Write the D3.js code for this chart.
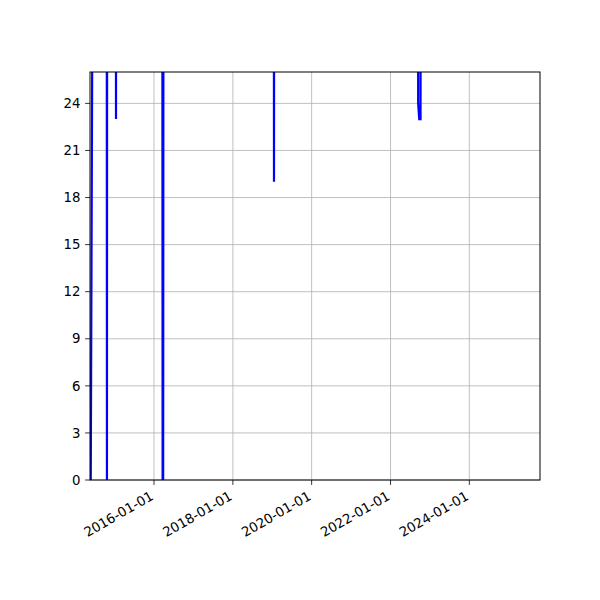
<!DOCTYPE html>
<html>
<head>
<script src="https://cdn.jsdelivr.net/npm/d3@7"></script>
<style>
  body { margin: 0; background: #fff; }
  text { font-family: "DejaVu Sans", sans-serif; }
</style>
</head>
<body>
<svg id="chart" width="600" height="600"></svg>
<script>
// series (values above 26 run off the top)
var dates = ["2014-05-25", "2014-06-14", "2014-10-20", "2014-10-22", "2014-10-24",
  "2015-01-12", "2015-01-14", "2015-01-16", "2016-03-18", "2016-03-21", "2016-03-26",
  "2016-03-29", "2019-01-15", "2019-01-17", "2019-01-19", "2022-09-12", "2022-09-14",
  "2022-09-24", "2022-10-06", "2022-10-08"];
var values = [0, 40, 40, 0, 40, 40, 23, 40, 40, 0, 0, 40, 40, 19, 40, 40, 24, 23, 23, 40];
var yTicks = [0, 3, 6, 9, 12, 15, 18, 21, 24];
var xTicks = ["2016-01-01", "2018-01-01", "2020-01-01", "2022-01-01", "2024-01-01"];
var xLimits = ["2014-05-18", "2025-10-17"];

var parse = d3.timeParse("%Y-%m-%d");
var series = dates.map(function(d, i){ return {date: parse(d), value: values[i]}; });

var plotLeft = 90, plotRight = 540, plotTop = 72, plotBottom = 480;
var svg = d3.select("#chart");

var x = d3.scaleTime().domain(xLimits.map(parse)).range([plotLeft, plotRight]);
var y = d3.scaleLinear().domain([0, 26]).range([plotBottom, plotTop]);

svg.append("clipPath").attr("id", "plotclip")
  .append("rect").attr("x", plotLeft).attr("y", plotTop)
  .attr("width", plotRight - plotLeft).attr("height", plotBottom - plotTop);

// grid
var grid = svg.append("g").attr("stroke", "#b0b0b0").attr("stroke-width", 0.8);
grid.selectAll(".gx").data(xTicks.map(parse)).enter().append("line")
  .attr("x1", function(d){ return x(d); }).attr("x2", function(d){ return x(d); })
  .attr("y1", plotTop).attr("y2", plotBottom);
grid.selectAll(".gy").data(yTicks).enter().append("line")
  .attr("x1", plotLeft).attr("x2", plotRight)
  .attr("y1", function(d){ return y(d); }).attr("y2", function(d){ return y(d); });

// line
var line = d3.line().x(function(d){ return x(d.date); }).y(function(d){ return y(d.value); });
svg.append("path").datum(series).attr("d", line)
  .attr("clip-path", "url(#plotclip)")
  .attr("fill", "none").attr("stroke", "blue").attr("stroke-width", 2.2);

// frame
svg.append("rect").attr("x", plotLeft).attr("y", plotTop)
  .attr("width", plotRight - plotLeft).attr("height", plotBottom - plotTop)
  .attr("fill", "none").attr("stroke", "black").attr("stroke-width", 1);

// y axis
var yAxis = svg.append("g");
yAxis.selectAll("line").data(yTicks).enter().append("line")
  .attr("x1", plotLeft - 4.9).attr("x2", plotLeft)
  .attr("y1", function(d){ return y(d); }).attr("y2", function(d){ return y(d); })
  .attr("stroke", "black").attr("stroke-width", 0.8);
yAxis.selectAll("text").data(yTicks).enter().append("text")
  .attr("x", plotLeft - 9.5).attr("y", function(d){ return y(d); })
  .attr("dy", "0.35em").attr("text-anchor", "end").attr("font-size", 13.3)
  .text(function(d){ return d; });

// x axis
var xAxis = svg.append("g");
xAxis.selectAll("line").data(xTicks).enter().append("line")
  .attr("x1", function(d){ return x(parse(d)); }).attr("x2", function(d){ return x(parse(d)); })
  .attr("y1", plotBottom).attr("y2", plotBottom + 4.9)
  .attr("stroke", "black").attr("stroke-width", 0.8);
xAxis.selectAll("text").data(xTicks).enter().append("text")
  .attr("transform", function(d){ return "translate(" + (x(parse(d)) - 5) + "," + (plotBottom + 9.5) + ") rotate(-30)"; })
  .attr("text-anchor", "end").attr("dy", "0.8em").attr("font-size", 13.3)
  .text(function(d){ return d; });
</script>
</body>
</html>
